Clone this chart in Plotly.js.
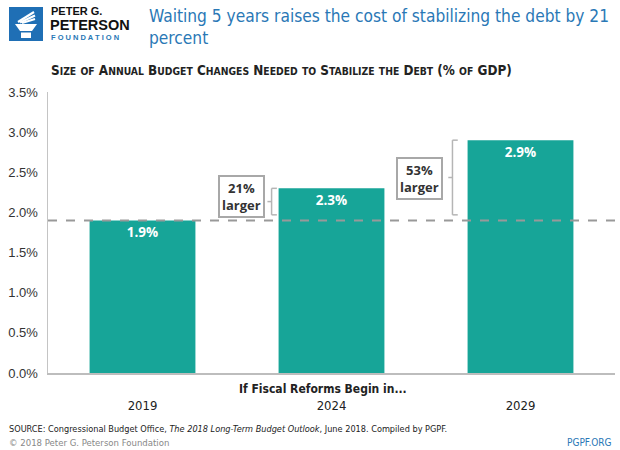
<!DOCTYPE html>
<html>
<head>
<meta charset="utf-8">
<script src="https://cdn.plot.ly/plotly-3.0.1.min.js"></script>
<style>html,body{margin:0;padding:0;background:#fff;}#chart{width:620px;height:450px;}</style>
</head>
<body>
<div id="chart"></div>
<script>
// ---- data ----
const categories = ['2019', '2024', '2029'];
const values = [1.9, 2.3, 2.9];
const valueLabels = ['1.9%', '2.3%', '2.9%'];
const increaseLabels = ['', '21%<br>larger', '53%<br>larger'];
const yTickVals = [0, 0.5, 1, 1.5, 2, 2.5, 3, 3.5];
const yTickText = ['0.0%', '0.5%', '1.0%', '1.5%', '2.0%', '2.5%', '3.0%', '3.5%'];

const titleText = 'Waiting 5 years raises the cost of stabilizing the debt by 21<br>percent';
const subtitleRaw = 'Size of Annual Budget Changes Needed to Stabilize the Debt (% of GDP)';
const xTitleText = 'If Fiscal Reforms Begin in...';
const sourceText = 'SOURCE: Congressional Budget Office, <i>The 2018 Long-Term Budget Outlook</i>, June 2018. Compiled by PGPF.';
const copyrightText = '© 2018 Peter G. Peterson Foundation';
const siteText = 'PGPF.ORG';

// ---- styles ----
const TEAL = '#17a598';
const BLUE = '#2a78b6';
const NARROW = '"DejaVu Sans Condensed", "Liberation Sans Narrow", Arial, sans-serif';
const SANS = '"Liberation Sans", Arial, sans-serif';

// plot area in pixels (for converting logo / header positions)
const M = {l: 48, r: 5, t: 92, b: 77};
const W = 620, H = 450;
const PW = W - M.l - M.r, PH = H - M.t - M.b;
const px = x => (x - M.l) / PW;
const py = y => (H - M.b - y) / PH;

// small caps helper
function smallCaps(s, big, small) {
  let out = '';
  let buf = '';
  for (const ch of s) {
    if (ch >= 'a' && ch <= 'z') { buf += ch.toUpperCase(); }
    else {
      if (buf) { out += '<span style="font-size:' + small + 'px">' + buf + '</span>'; buf = ''; }
      out += ch;
    }
  }
  if (buf) out += '<span style="font-size:' + small + 'px">' + buf + '</span>';
  return '<span style="font-size:' + big + 'px">' + out + '</span>';
}

const trace = {
  type: 'bar',
  x: categories,
  y: values,
  text: valueLabels,
  textposition: 'inside',
  insidetextanchor: 'end',
  textangle: 0,
  constraintext: 'none',
  textfont: {family: '"Open Sans", sans-serif', size: 13.5, color: '#ffffff', weight: 'bold'},
  marker: {color: TEAL},
  hoverinfo: 'none'
};

const shapes = [];
// dashed reference line at the first value
shapes.push({type: 'line', xref: 'paper', x0: 0, x1: 1, yref: 'y', y0: values[0], y1: values[0],
  line: {color: '#999', width: 2, dash: 'dash'}, layer: 'above'});

// braces next to bars 2 and 3, with their label boxes
const halfBar = 0.28;
const braceGap = [0, 0.037, 0.08];
const boxX = [0, 0.524, 1.466];
const boxY = [0, 2.2, 2.42];
const annotations = [];
for (let i = 1; i < categories.length; i++) {
  const xv = i - halfBar - braceGap[i];
  const xr = xv + 0.028;
  const xl = xv - 0.022;
  const yTop = values[i];
  const yBot = values[0] + 0.07;
  const yMid = (yTop + yBot) / 2;
  const lc = {color: '#b5b5b5', width: 1.5};
  shapes.push({type: 'line', xref: 'x', yref: 'y', x0: xv, x1: xv, y0: yBot, y1: yTop, line: lc});
  shapes.push({type: 'line', xref: 'x', yref: 'y', x0: xv, x1: xr, y0: yTop, y1: yTop, line: lc});
  shapes.push({type: 'line', xref: 'x', yref: 'y', x0: xv, x1: xr, y0: yBot, y1: yBot, line: lc});
  shapes.push({type: 'line', xref: 'x', yref: 'y', x0: xv, x1: xl, y0: yMid, y1: yMid, line: lc});
  annotations.push({
    xref: 'x', yref: 'y', x: boxX[i], y: boxY[i], xanchor: 'center', yanchor: 'middle',
    text: '<b>' + increaseLabels[i] + '</b>', showarrow: false, align: 'center',
    font: {family: '"Open Sans", sans-serif', size: 13, color: '#333'},
    bgcolor: '#fff', bordercolor: '#a8a8a8', borderwidth: 2, borderpad: 2
  });
}

// ---- logo ----
shapes.push({type: 'rect', xref: 'paper', yref: 'paper', x0: px(9), x1: px(43), y0: py(41), y1: py(7),
  fillcolor: '#1f6fb5', line: {width: 0}, layer: 'above'});
// torch cup
shapes.push({type: 'path', xref: 'paper', yref: 'paper', layer: 'above',
  path: 'M' + px(15) + ',' + py(24) + ' L' + px(37) + ',' + py(24) + ' L' + px(32) + ',' + py(31) + ' L' + px(20) + ',' + py(31) + ' Z',
  fillcolor: '#fff', line: {width: 0}});
shapes.push({type: 'rect', xref: 'paper', yref: 'paper', layer: 'above',
  x0: px(21), x1: px(31), y0: py(38), y1: py(32.5), fillcolor: '#fff', line: {width: 0}});
// flames
[[18, 22, 34, 12], [20, 22.5, 35, 15.5], [22, 23, 35, 19]].forEach(f => {
  shapes.push({type: 'line', xref: 'paper', yref: 'paper', layer: 'above',
    x0: px(f[0]), y0: py(f[1]), x1: px(f[2]), y1: py(f[3]), line: {color: '#fff', width: 2.2}});
});

annotations.push(
  {xref: 'paper', yref: 'paper', x: px(49), y: py(11), xanchor: 'left', yanchor: 'middle', showarrow: false,
   text: '<b>PETER G.</b>', font: {family: SANS, size: 11, color: '#111'}},
  {xref: 'paper', yref: 'paper', x: px(48), y: py(25), xanchor: 'left', yanchor: 'middle', showarrow: false,
   text: '<b>PETERSON</b>', font: {family: SANS, size: 14.5, color: '#111'}},
  {xref: 'paper', yref: 'paper', x: px(49), y: py(37), xanchor: 'left', yanchor: 'middle', showarrow: false,
   text: '<b>F O U N D A T I O N</b>', font: {family: SANS, size: 7.5, color: BLUE}},
  // title
  {xref: 'paper', yref: 'paper', x: px(147), y: py(27), xanchor: 'left', yanchor: 'middle', showarrow: false,
   align: 'left', text: titleText, font: {family: NARROW, size: 17.2, color: BLUE}},
  // subtitle
  {xref: 'paper', yref: 'paper', x: px(49), y: py(70), xanchor: 'left', yanchor: 'middle', showarrow: false,
   text: '<b>' + smallCaps(subtitleRaw, 13.4, 10.3) + '</b>', font: {family: NARROW, size: 13.4, color: '#222'}},
  // x title
  {xref: 'paper', yref: 'paper', x: px(323), y: py(389), xanchor: 'center', yanchor: 'middle', showarrow: false,
   text: '<b>' + xTitleText + '</b>', font: {family: NARROW, size: 12, color: '#222'}},
  // footer
  {xref: 'paper', yref: 'paper', x: px(7), y: py(429), xanchor: 'left', yanchor: 'middle', showarrow: false,
   text: sourceText, font: {family: NARROW, size: 9.1, color: '#222'}},
  {xref: 'paper', yref: 'paper', x: px(7), y: py(442), xanchor: 'left', yanchor: 'middle', showarrow: false,
   text: copyrightText, font: {family: NARROW, size: 9.5, color: '#888'}},
  {xref: 'paper', yref: 'paper', x: px(614), y: py(442), xanchor: 'right', yanchor: 'middle', showarrow: false,
   text: siteText, font: {family: NARROW, size: 10, color: BLUE}}
);

const layout = {
  width: W, height: H,
  margin: M,
  paper_bgcolor: '#fff', plot_bgcolor: '#fff',
  showlegend: false,
  bargap: 0.44,
  xaxis: {
    type: 'category',
    showline: true, linecolor: '#bdbdbd', linewidth: 2,
    ticks: 'outside', ticklen: 19, tickcolor: 'rgba(0,0,0,0)',
    tickfont: {family: NARROW, size: 13, color: '#222'},
    showgrid: false, zeroline: false, fixedrange: true
  },
  yaxis: {
    range: [0, 3.5],
    tickvals: yTickVals, ticktext: yTickText,
    showline: true, linecolor: '#c4c4c4', linewidth: 1.5,
    ticks: 'outside', ticklen: 6, tickcolor: 'rgba(0,0,0,0)',
    tickfont: {family: SANS, size: 13, color: '#333'},
    showgrid: false, zeroline: false, fixedrange: true
  },
  shapes: shapes,
  annotations: annotations
};

Plotly.newPlot('chart', [trace], layout, {displayModeBar: false, staticPlot: true});
</script>
</body>
</html>
